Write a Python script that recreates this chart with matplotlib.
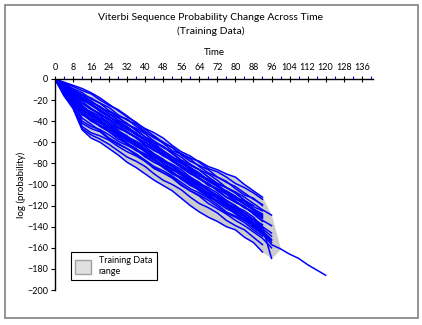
import matplotlib
matplotlib.use("Agg")
import matplotlib.pyplot as plt
from matplotlib.patches import Rectangle, Patch
import numpy as np

plt.rcParams['font.family'] = ['Lato', 'DejaVu Sans']

title = "Viterbi Sequence Probability Change Across Time\n(Training Data)"
x_label = "Time"
y_label = "log (probability)"
legend_label = "Training Data\nrange"
time_step = 4
x_ticks = list(range(0, 137, 8))
y_ticks = list(range(-200, 1, 20))

# log-probability of each sequence, sampled every 4 time steps
seq01 = [0, -3, -6, -9, -13, -18, -24, -30, -36, -41, -48, -54, -60, -65, -71, -75, -78, -83, -86, -90, -93, -100, -106, -112]
seq02 = [0, -4, -7, -11, -14, -20, -25, -29, -35, -42, -47, -51, -56, -63, -69, -73, -79, -85, -88, -93, -99, -103, -108, -114]
seq03 = [0, -5, -9, -13, -19, -23, -27, -34, -39, -43, -50, -56, -60, -65, -72, -78, -82, -86, -93, -98, -102, -108, -114, -119]
seq04 = [0, -4, -10, -15, -18, -23, -30, -35, -38, -45, -51, -55, -61, -68, -71, -76, -83, -89, -93, -97, -104, -110, -113, -120]
seq05 = [0, -6, -11, -15, -21, -27, -31, -36, -43, -47, -52, -59, -65, -69, -74, -81, -86, -90, -96, -103, -107, -112, -118, -124, -129]
seq06 = [0, -7, -12, -17, -22, -26, -33, -39, -43, -48, -55, -61, -64, -70, -77, -82, -86, -93, -99, -103, -108, -115, -121, -125]
seq07 = [0, -8, -14, -19, -23, -30, -36, -40, -45, -52, -57, -61, -68, -74, -78, -84, -91, -95, -100, -107, -112, -116, -123, -128]
seq08 = [0, -9, -16, -28, -31, -35, -42, -47, -50, -56, -63, -67, -71, -78, -84, -88, -94, -101, -104, -109, -116, -122, -126, -132]
seq09 = [0, -6, -13, -20, -24, -29, -35, -42, -46, -51, -58, -63, -68, -74, -80, -84, -89, -96, -102, -106, -111, -118, -124, -129]
seq10 = [0, -10, -17, -23, -29, -33, -38, -45, -51, -55, -60, -67, -73, -77, -82, -89, -95, -99, -105, -112, -117, -121, -127, -134, -139]
seq11 = [0, -11, -19, -34, -38, -41, -48, -53, -57, -62, -69, -74, -78, -83, -90, -96, -100, -105, -112, -118, -122, -127, -134, -140]
seq12 = [0, -8, -15, -21, -28, -34, -38, -43, -50, -56, -60, -65, -72, -78, -82, -87, -94, -100, -104, -109, -116, -122, -126, -131]
seq13 = [0, -12, -21, -27, -32, -39, -45, -49, -54, -61, -67, -71, -76, -83, -89, -93, -98, -105, -111, -115, -120, -127, -133, -138]
seq14 = [0, -9, -18, -40, -45, -48, -53, -59, -63, -67, -74, -79, -83, -88, -95, -100, -104, -109, -116, -121, -125, -130, -137, -142, -149]
seq15 = [0, -13, -23, -29, -36, -42, -46, -51, -58, -64, -68, -73, -80, -86, -90, -95, -102, -108, -112, -117, -124, -130, -134, -141]
seq16 = [0, -14, -25, -45, -51, -54, -58, -64, -69, -73, -78, -85, -89, -93, -100, -106, -110, -115, -121, -127, -131, -136, -143, -149]
seq17 = [0, -15, -26, -32, -39, -45, -50, -55, -62, -68, -72, -77, -84, -90, -94, -99, -106, -112, -116, -121, -128, -134, -138, -145, -155]
seq18 = [0, -16, -28, -48, -56, -60, -66, -72, -79, -84, -90, -96, -101, -106, -113, -120, -126, -131, -135, -140, -143, -150, -155, -164]
seq19 = [0, -12, -22, -37, -43, -49, -56, -61, -66, -72, -78, -84, -89, -94, -101, -106, -111, -118, -123, -128, -134, -139, -145, -151, -160]
seq20 = [0, -8, -15, -23, -28, -33, -40, -46, -50, -55, -62, -68, -72, -77, -84, -90, -94, -99, -106, -112, -116, -121, -128, -135]
seq21 = [0, -10, -18, -25, -32, -37, -42, -49, -55, -59, -64, -71, -77, -81, -86, -93, -99, -103, -108, -115, -121, -125, -131, -140, -170]
seq22 = [0, -6, -12, -19, -25, -30, -35, -42, -48, -52, -57, -64, -70, -74, -79, -86, -92, -96, -101, -108, -114, -118, -124]
seq23 = [0, -11, -20, -28, -35, -40, -46, -53, -59, -63, -69, -76, -82, -86, -91, -98, -104, -108, -113, -120, -126, -130, -137, -144]
seq24 = [0, -10, -20, -27, -33, -39, -45, -51, -57, -62, -68, -74, -80, -85, -91, -97, -102, -108, -113, -119, -124, -130, -140, -147,
         -157, -161, -166, -170, -176, -181, -186]
seq25 = [0, -13, -24, -42, -47, -50, -57, -62, -66, -71, -77, -83, -87, -92, -98, -104, -108, -113, -119, -126, -130, -134, -141, -147]
seq26 = [0, -7, -13, -18, -24, -31, -36, -41, -47, -53, -58, -63, -69, -76, -80, -85, -91, -97, -102, -107, -113, -119, -124, -130]
seq27 = [0, -9, -17, -26, -33, -37, -43, -50, -56, -60, -66, -72, -78, -82, -88, -94, -100, -105, -110, -117, -123, -127, -133, -140, -146]
seq28 = [0, -14, -24, -30, -38, -44, -48, -54, -61, -67, -71, -76, -83, -89, -93, -98, -105, -111, -115, -120, -127, -133, -137, -144, -152]
seq29 = [0, -15, -27, -47, -53, -57, -62, -68, -74, -78, -83, -90, -96, -100, -105, -112, -118, -122, -127, -134, -139, -143, -150, -157]
seq30 = [0, -5, -11, -17, -21, -27, -33, -37, -42, -49, -55, -59, -64, -71, -77, -81, -86, -93, -99, -103, -108, -115, -120]
seq31 = [0, -11, -21, -30, -34, -39, -46, -52, -56, -61, -68, -74, -78, -83, -90, -96, -100, -106, -113, -119, -123, -129, -136, -141]
seq32 = [0, -12, -20, -33, -40, -44, -50, -57, -61, -66, -73, -79, -83, -88, -95, -101, -105, -110, -117, -123, -127, -132, -139, -146, -153]

sequences = [seq01, seq02, seq03, seq04, seq05, seq06, seq07, seq08, seq09, seq10,
             seq11, seq12, seq13, seq14, seq15, seq16, seq17, seq18, seq19, seq20,
             seq21, seq22, seq23, seq24, seq25, seq26, seq27, seq28, seq29, seq30,
             seq31, seq32]

fig = plt.figure(figsize=(4.22, 3.25), dpi=100)
fig.patches.append(Rectangle((5 / 422, 7 / 325), 413 / 422, 313 / 325, transform=fig.transFigure,
                             fill=False, edgecolor='#808080', linewidth=1.2))
ax = fig.add_axes([55 / 422, 35 / 325, 318 / 422, 211 / 325])

# range band
max_len = max(len(s) for s in sequences)
t_all = np.arange(max_len) * time_step
lo = []
hi = []
for i in range(max_len):
    vals = [s[i] for s in sequences if len(s) > i]
    lo.append(min(vals))
    hi.append(max(vals))
ax.fill_between(t_all, lo, hi, color='#cccccc', linewidth=0, zorder=1)

for s in sequences:
    t = np.arange(len(s)) * time_step
    ax.plot(t, s, color='#0000ff', linewidth=1.1, zorder=2)

ax.set_xlim(0, 141)
ax.set_ylim(-200, 0)
ax.xaxis.tick_top()
ax.xaxis.set_label_position('top')
ax.set_xticks(x_ticks)
ax.set_xticks(list(range(4, 141, 8)), minor=True)
ax.set_yticks(y_ticks)
ax.tick_params(axis='x', which='major', direction='inout', length=4, labelsize=6.5, pad=3, width=0.8)
ax.tick_params(axis='x', which='minor', direction='out', length=2, color='#0000ff', width=0.8)
ax.tick_params(axis='y', direction='out', length=3, labelsize=6.5, pad=2, width=0.8)
for side in ['right', 'bottom']:
    ax.spines[side].set_visible(False)
ax.spines['top'].set_linewidth(1)
ax.spines['left'].set_linewidth(1)
ax.set_xlabel(x_label, fontsize=7, labelpad=6)
ax.set_ylabel(y_label, fontsize=7, labelpad=0.5)
fig.text(0.5, 0.925, title, ha='center', va='center', fontsize=7.5, linespacing=1.5)

leg = ax.legend(handles=[Patch(facecolor='#e0e0e0', edgecolor='#a0a0a0', label=legend_label)],
                loc='lower left', bbox_to_anchor=(0.035, 0.025), fontsize=6.5, fancybox=False,
                framealpha=1, edgecolor='black', handlelength=1.8, handleheight=2.0, borderpad=0.5)
leg.get_frame().set_linewidth(0.8)

fig.savefig('out.png', dpi=100)
